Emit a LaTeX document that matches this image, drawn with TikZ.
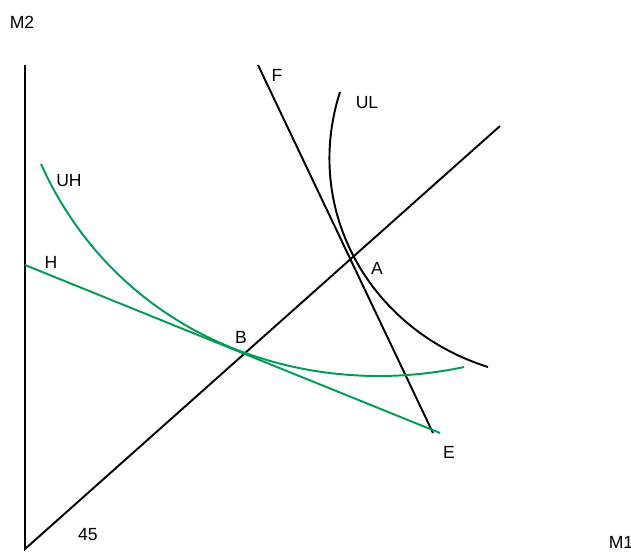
\documentclass[tikz,border=0pt]{standalone}
\usepackage{fontspec}
\setmainfont{Liberation Sans}
\definecolor{hgreen}{RGB}{0,155,85}
\usepackage{tikz}
\usetikzlibrary{positioning,calc}

\begin{document}
\begin{tikzpicture}[x=0.02cm, y=-0.02cm, line width=1.1pt,
    lbl/.style={font=\fontsize{10}{12}\selectfont, inner sep=0pt},
    hcurve/.style={hgreen}]
  \useasboundingbox (0,0) rectangle (631,551);
  % axes and the 45 degree line
  \coordinate (O) at (25,549);
  \coordinate (top) at (25,65);
  \coordinate (diag) at (500,126);
  \draw (top) -- (O) -- (diag);

  % budget line F and indifference curve UL
  \coordinate (Ftop) at (258,65);
  \coordinate (Fend) at (433,433);
  \draw (Ftop) -- (Fend);
  \draw (340,92) .. controls (302,210) and (370,330) .. (488,367);

  % green: H line and UH curve
  \coordinate (Htop) at (25,265);
  \coordinate (Hend) at (440,433);
  \draw[hcurve] (Htop) -- (Hend);
  \draw[hcurve] (41,164) .. controls (118,335) and (300,402) .. (464,367);

  % labels
  \node[lbl] (m2) at (22,22) {M2};
  \node[lbl] (m1) at (621,542) {M1};
  \node[lbl] (f) at (277,75) {F};
  \node[lbl] (ul) at (367,103) {UL};
  \node[lbl] (uh) at (69,181) {UH};
  \node[lbl] (h) at (51,262) {H};
  \node[lbl] (a) at (377,268) {A};
  \node[lbl] (b) at (241,337) {B};
  \node[lbl] (e) at (449,452) {E};
  \node[lbl] (ang) at (88,535) {45};
\end{tikzpicture}
\end{document}
